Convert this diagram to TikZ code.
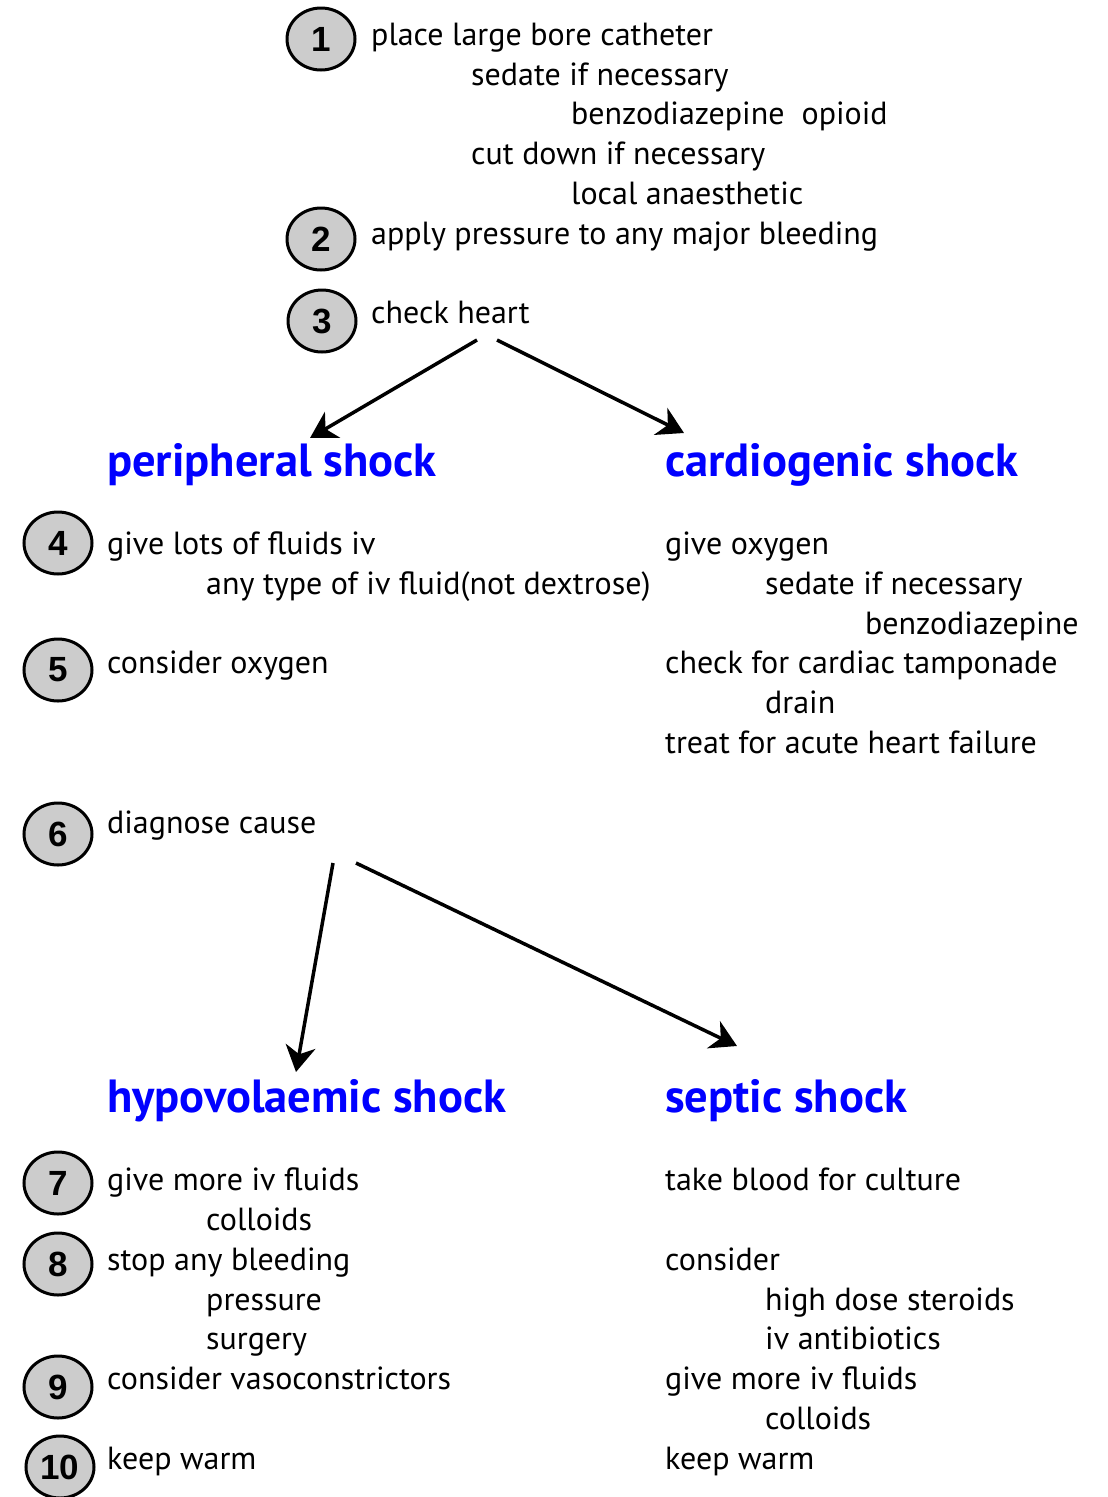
\documentclass[tikz,border=0pt]{standalone}
\usepackage{fontspec}
\setmainfont{PT Sans}
\newfontfamily\numfont{Liberation Sans}
\usetikzlibrary{shapes.geometric,arrows.meta}
\definecolor{headblue}{RGB}{0,0,255}
\definecolor{badgegrey}{RGB}{204,204,204}
\tikzset{
  txt/.style={anchor=base west,inner sep=0pt,font=\fontsize{32}{38}\selectfont},
  head/.style={anchor=base west,inner sep=0pt,text=headblue,font=\fontsize{46.5}{52}\selectfont\bfseries},
  badge/.style={ellipse,draw,line width=3pt,fill=badgegrey,minimum width=68pt,minimum height=62pt,inner sep=0pt,font=\numfont\fontsize{35}{40}\selectfont\bfseries},
  flow/.style={line width=3.5pt,-{Stealth[length=26pt,width=30pt,inset=8pt]}}
}
\begin{document}
\begin{tikzpicture}[x=1pt,y=-1pt]
\useasboundingbox (0,0) rectangle (1108,1497);

% step badges
\node[badge] (b1) at (321,39) {1};
\node[badge] (b2) at (321,239) {2};
\node[badge] (b3) at (322,321) {3};
\node[badge] (b4) at (58,543) {4};
\node[badge] (b5) at (58,670) {5};
\node[badge] (b6) at (58,834) {6};
\node[badge] (b7) at (58,1183) {7};
\node[badge] (b8) at (58,1264) {8};
\node[badge] (b9) at (58,1387) {9};
\node[badge] (b10) at (60,1467) {10};

% first steps
\node[txt] (t1) at (371,45) {place large bore catheter};
\node[txt] (t1a) at (471,85) {sedate if necessary};
\node[txt] (t1b) at (571,124) {benzodiazepine\ \ opioid};
\node[txt] (t1c) at (471,164) {cut down if necessary};
\node[txt] (t1d) at (571,204) {local anaesthetic};
\node[txt] (t2) at (371,244) {apply pressure to any major bleeding};
\node[txt] (t3) at (371,323) {check heart};

% heart branch
\node[head] (hp) at (107,476) {peripheral shock};
\node[head] (hc) at (665,476) {cardiogenic shock};

\node[txt] (p1) at (107,554) {give lots of fluids iv};
\node[txt] (p1a) at (206,594) {any type of iv fluid(not dextrose)};
\node[txt] (p2) at (107,673) {consider oxygen};

\node[txt] (c1) at (665,554) {give oxygen};
\node[txt] (c1a) at (765,594) {sedate if necessary};
\node[txt] (c1b) at (865,634) {benzodiazepine};
\node[txt] (c2) at (665,673) {check for cardiac tamponade};
\node[txt] (c2a) at (765,713) {drain};
\node[txt] (c3) at (665,753) {treat for acute heart failure};

\node[txt] (t6) at (107,833) {diagnose cause};

% cause branch
\node[head] (hh) at (107,1112) {hypovolaemic shock};
\node[head] (hs) at (665,1112) {septic shock};

\node[txt] (h1) at (107,1190) {give more iv fluids};
\node[txt] (h1a) at (206,1230) {colloids};
\node[txt] (h2) at (107,1270) {stop any bleeding};
\node[txt] (h2a) at (206,1310) {pressure};
\node[txt] (h2b) at (206,1349) {surgery};
\node[txt] (h3) at (107,1389) {consider vasoconstrictors};
\node[txt] (h4) at (107,1469) {keep warm};

\node[txt] (s1) at (665,1190) {take blood for culture};
\node[txt] (s2) at (665,1270) {consider};
\node[txt] (s2a) at (765,1310) {high dose steroids};
\node[txt] (s2b) at (765,1349) {iv antibiotics};
\node[txt] (s3) at (665,1389) {give more iv fluids};
\node[txt] (s3a) at (765,1429) {colloids};
\node[txt] (s4) at (665,1469) {keep warm};

% connector ends
\coordinate (a1s) at (477,340);
\coordinate (a1e) at (310,438);
\coordinate (a2s) at (497,340);
\coordinate (a2e) at (684,433);
\coordinate (a3s) at (333,863);
\coordinate (a3e) at (296,1072);
\coordinate (a4s) at (356,863);
\coordinate (a4e) at (737,1046);

\draw[flow] (a1s) -- (a1e);
\draw[flow] (a2s) -- (a2e);
\draw[flow] (a3s) -- (a3e);
\draw[flow] (a4s) -- (a4e);
\end{tikzpicture}
\end{document}
